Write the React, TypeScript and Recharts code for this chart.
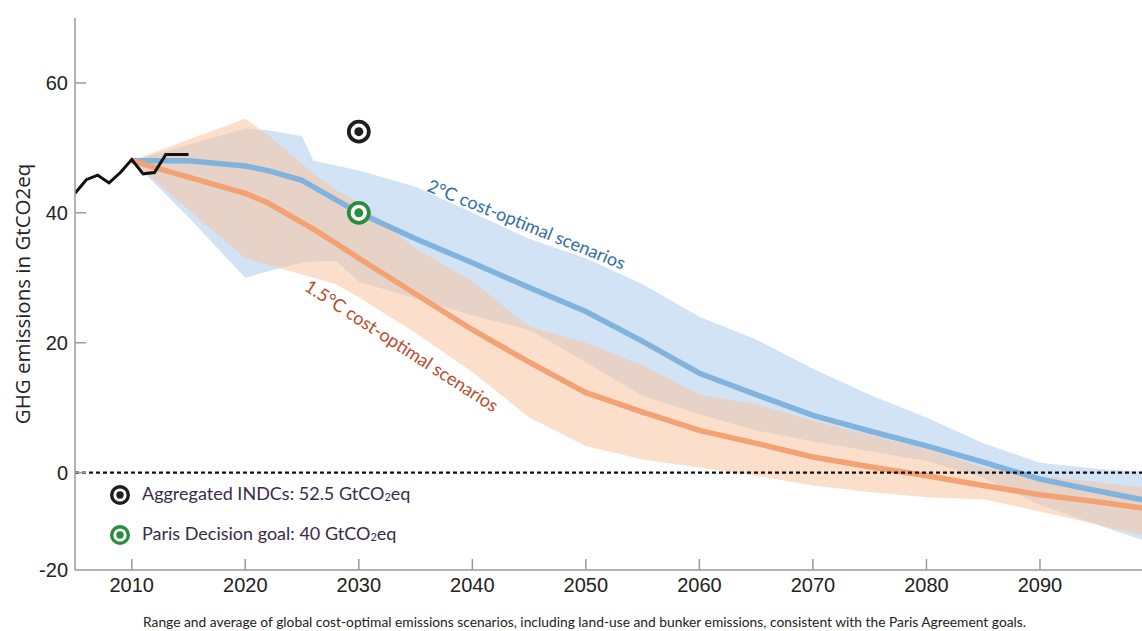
import React from 'react';
import {
  ComposedChart,
  Area,
  Line,
  Scatter,
  XAxis,
  YAxis,
  ReferenceLine,
  ReferenceDot,
} from 'recharts';

// ---------- data ----------
const histYears = [2005, 2006, 2007, 2008, 2009, 2010, 2011, 2012, 2013, 2014, 2015];
const histValues = [43.0, 45.1, 45.8, 44.6, 46.2, 48.2, 46.0, 46.2, 49.0, 49.0, 49.0];

const scenYears = [
  2010, 2015, 2020, 2022, 2025, 2026, 2028, 2030, 2035, 2040, 2045, 2050, 2055, 2060,
  2065, 2070, 2075, 2080, 2085, 2090, 2095, 2100,
];
const twoDegMean = [48, 48, 47.2, 46.5, 45, 44, 42, 40, 36, 32.3, 28.5, 24.8, 20.2, 15.3, 12, 8.8, 6.4, 4.1, 1.6, -1, -2.8, -4.5];
const twoDegHigh = [48, 50.5, 53, 52.7, 51.8, 48, 47.3, 46.5, 44, 40, 36, 33, 29, 24, 20.5, 16, 12, 8.5, 4.5, 1.5, 0.6, 0];
const twoDegLow = [48, 39.3, 30, 31, 32.3, 32.5, 32.6, 29.4, 26.8, 24.2, 22, 17, 11.8, 9, 6.5, 4.8, 3.3, 1.8, -0.8, -5, -8, -11];
const onePointFiveMean = [48, 45.5, 43, 41.5, 38.5, 37.5, 35.3, 33, 27.5, 22, 17, 12.3, 9.3, 6.5, 4.5, 2.4, 0.9, -0.5, -2, -3.4, -4.5, -5.7];
const onePointFiveHigh = [48, 51.3, 54.5, 52, 47.5, 46, 43.5, 41.5, 34.5, 29.5, 22.5, 20, 16.5, 12, 10.5, 8, 5.8, 3.6, 0.8, -0.5, -1.5, -2.5];
const onePointFiveLow = [48, 40.5, 33, 32, 30.5, 30, 29, 27, 21.5, 15.5, 8.5, 4.1, 2, 0.8, -0.5, -2, -3, -3.8, -4.1, -6, -8, -10];

const indcYear = 2030;
const indcValue = 52.5;
const parisYear = 2030;
const parisValue = 40;

const xTicks = [2010, 2020, 2030, 2040, 2050, 2060, 2070, 2080, 2090];
const yTicks = [-15, 0, 20, 40, 60];
const yTickLabels = ['-20', '0', '20', '40', '60'];

const yAxisTitle = 'GHG emissions in GtCO2eq';
const label2Deg = '2°C cost-optimal scenarios';
const label15Deg = '1.5°C cost-optimal scenarios';
const legendIndc = 'Aggregated INDCs: 52.5 GtCO';
const legendParis = 'Paris Decision goal: 40 GtCO';
const caption =
  'Range and average of global cost-optimal emissions scenarios, including land-use and bunker emissions, consistent with the Paris Agreement goals.';

// ---------- derived tables ----------
const scenRows = scenYears.map((year, i) => ({
  year,
  twoMean: twoDegMean[i],
  twoRange: [twoDegLow[i], twoDegHigh[i]],
  onePtMean: onePointFiveMean[i],
  onePtRange: [onePointFiveLow[i], onePointFiveHigh[i]],
}));
const histRows = histYears.map((year, i) => ({ year, hist: histValues[i] }));
const indcRows = [{ year: indcYear, value: indcValue }];
const parisRows = [{ year: parisYear, value: parisValue }];

// ---------- styles ----------
const TICK_FONT = '"Liberation Sans", Arial, sans-serif';
const LABEL_FONT = 'Lato, "Open Sans", sans-serif';
const AXIS_COLOR = '#9a9a9a';
const BLUE_BAND = '#d2e3f5';
const ORANGE_BAND = '#f8c4a0';
const BLUE_LINE = '#80b4df';
const ORANGE_LINE = '#f2a273';
const GREEN = '#2b8c3f';
const DARK = '#1e1e1e';

const YTick = (props: any) => {
  const { x, y, payload, index } = props;
  const axisX = x + 7;
  return (
    <g>
      {index !== 0 && (
        <line x1={axisX} x2={axisX + 11} y1={y} y2={y} stroke={AXIS_COLOR} strokeWidth={1.5} />
      )}
      <text
        x={x}
        y={y}
        textAnchor="end"
        dominantBaseline="central"
        fontFamily={TICK_FONT}
        fontSize={20}
        fill="#222"
      >
        {yTickLabels[yTicks.indexOf(payload.value)]}
      </text>
    </g>
  );
};

const XTick = (props: any) => {
  const { x, y, payload } = props;
  return (
    <g>
      <line x1={x} x2={x} y1={y - 11} y2={y} stroke={AXIS_COLOR} strokeWidth={1.5} />
      <text x={x} y={y + 22} textAnchor="middle" fontFamily={TICK_FONT} fontSize={20} fill="#222">
        {payload.value}
      </text>
    </g>
  );
};

const TopTick = (props: any) => {
  const { x, y } = props;
  return <line x1={x} x2={x} y1={y} y2={y + 11} stroke={AXIS_COLOR} strokeWidth={1.5} />;
};

const makeRing = (color: string, r: number) => (p: any) => (
  <g>
    <circle cx={p.cx} cy={p.cy} r={r} fill="#fff" stroke={color} strokeWidth={3.8} />
    <circle cx={p.cx} cy={p.cy} r={r * 0.45} fill={color} />
  </g>
);

const makeCurveLabel = (text: string, angle: number, color: string) => (p: any) => (
  <text
    x={p.cx}
    y={p.cy}
    transform={`rotate(${angle} ${p.cx} ${p.cy})`}
    textAnchor="middle"
    dominantBaseline="central"
    fontFamily={LABEL_FONT}
    fontSize={18}
    fill={color}
  >
    {text}
  </text>
);

const YTitle = (props: any) => {
  const vb = props.viewBox || { x: 15, y: 18, width: 60, height: 552 };
  const cx = 22;
  const cy = vb.y + vb.height / 2;
  return (
    <text
      x={cx}
      y={cy}
      transform={`rotate(-90 ${cx} ${cy})`}
      textAnchor="middle"
      dominantBaseline="central"
      fontFamily='"Open Sans", sans-serif'
      fontSize={20.5}
      fill="#222"
    >
      {yAxisTitle}
    </text>
  );
};

const LegendIcon = ({ color }: { color: string }) => (
  <svg width={24} height={24} style={{ display: 'block' }}>
    <circle cx={12} cy={12} r={8.3} fill="#fff" stroke={color} strokeWidth={3.4} />
    <circle cx={12} cy={12} r={3.7} fill={color} />
  </svg>
);

export default function App() {
  const legendText: React.CSSProperties = {
    fontFamily: LABEL_FONT,
    fontSize: 18,
    color: '#3b2a4a',
    lineHeight: '24px',
    whiteSpace: 'nowrap',
    marginLeft: 10,
  };
  const sub: React.CSSProperties = { fontSize: 11, position: 'relative', top: 1 };
  return (
    <div
      style={{
        position: 'fixed',
        left: 0,
        top: 0,
        width: 1142,
        height: 631,
        overflow: 'hidden',
        background: '#fff',
      }}
    >
      <ComposedChart
        width={1156}
        height={610}
        data={scenRows}
        margin={{ top: 18, right: 2.5, bottom: 0, left: 15 }}
      >
        <XAxis
          dataKey="year"
          type="number"
          domain={[2005, 2100]}
          allowDataOverflow
          ticks={xTicks}
          interval={0}
          height={40}
          tickSize={0}
          tickMargin={0}
          tick={XTick}
          axisLine={{ stroke: AXIS_COLOR, strokeWidth: 1.5 }}
        />
        <XAxis
          xAxisId="top"
          orientation="top"
          dataKey="year"
          type="number"
          domain={[2005, 2100]}
          allowDataOverflow
          ticks={xTicks}
          interval={0}
          height={0}
          tickSize={0}
          tickMargin={0}
          tick={TopTick}
          axisLine={{ stroke: AXIS_COLOR, strokeWidth: 1.5 }}
        />
        <YAxis
          type="number"
          domain={[-15, 70]}
          allowDataOverflow
          ticks={yTicks}
          interval={0}
          width={60}
          tickSize={0}
          tickMargin={7}
          tick={YTick}
          axisLine={{ stroke: AXIS_COLOR, strokeWidth: 1.5 }}
          label={{ content: YTitle }}
        />
        <Area
          dataKey="twoRange"
          type="linear"
          stroke="none"
          fill={BLUE_BAND}
          fillOpacity={1}
          isAnimationActive={false}
        />
        <Line
          dataKey="twoMean"
          type="linear"
          stroke={BLUE_LINE}
          strokeWidth={5.5}
          dot={false}
          isAnimationActive={false}
        />
        <Area
          dataKey="onePtRange"
          type="linear"
          stroke="none"
          fill={ORANGE_BAND}
          fillOpacity={0.55}
          isAnimationActive={false}
        />
        <Line
          dataKey="onePtMean"
          type="linear"
          stroke={ORANGE_LINE}
          strokeWidth={5.5}
          dot={false}
          isAnimationActive={false}
        />
        <Line
          data={histRows}
          dataKey="hist"
          type="linear"
          stroke="#111"
          strokeWidth={3}
          dot={false}
          isAnimationActive={false}
        />
        <ReferenceLine y={0} stroke="#111" strokeWidth={2.4} strokeDasharray="4 3" />
        <Scatter data={indcRows} dataKey="value" shape={makeRing(DARK, 10)} isAnimationActive={false} />
        <Scatter data={parisRows} dataKey="value" shape={makeRing(GREEN, 10)} isAnimationActive={false} />
        <ReferenceDot
          x={2044.8}
          y={38.3}
          r={0}
          shape={makeCurveLabel(label2Deg, 22, '#2f6fa8')}
        />
        <ReferenceDot
          x={2033.8}
          y={19.6}
          r={0}
          shape={makeCurveLabel(label15Deg, 33, '#b84b2d')}
        />
      </ComposedChart>

      <div style={{ position: 'absolute', left: 108, top: 481, display: 'flex', alignItems: 'center' }}>
        <LegendIcon color={DARK} />
        <span style={legendText}>
          {legendIndc}
          <span style={sub}>2</span>eq
        </span>
      </div>
      <div style={{ position: 'absolute', left: 108, top: 521, display: 'flex', alignItems: 'center' }}>
        <LegendIcon color={GREEN} />
        <span style={legendText}>
          {legendParis}
          <span style={sub}>2</span>eq
        </span>
      </div>
      <div
        style={{
          position: 'absolute',
          left: 143,
          top: 613,
          fontFamily: LABEL_FONT,
          fontSize: 13.8,
          lineHeight: '18px',
          color: '#222',
          whiteSpace: 'nowrap',
        }}
      >
        {caption}
      </div>
    </div>
  );
}
